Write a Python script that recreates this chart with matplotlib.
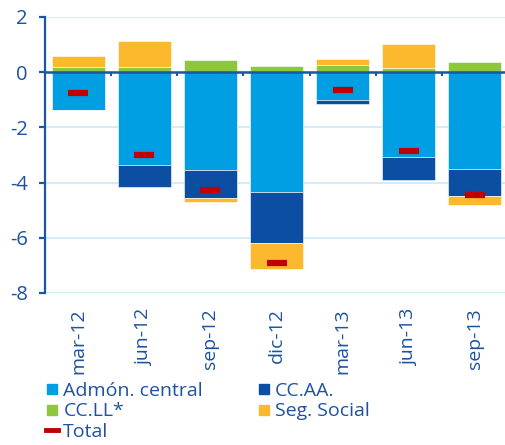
import matplotlib

matplotlib.use("Agg")
import matplotlib.pyplot as plt
import numpy as np
from matplotlib.lines import Line2D

# Data (percentage points)
quarters = ["mar-12", "jun-12", "sep-12", "dic-12", "mar-13", "jun-13", "sep-13"]
admon_central = [-1.36, -3.38, -3.53, -4.34, -1.01, -3.06, -3.52]
cc_aa = [-0.02, -0.77, -1.03, -1.84, -0.13, -0.85, -0.97]
cc_ll = [0.20, 0.20, 0.44, 0.21, 0.25, 0.17, 0.37]
seg_social = [0.39, 0.94, -0.14, -0.96, 0.23, 0.85, -0.34]
total = [-0.75, -2.99, -4.27, -6.93, -0.66, -2.87, -4.44]
y_ticks = [2, 0, -2, -4, -6, -8]

C_CENTRAL = "#009fe3"
C_CCAA = "#0b4ea2"
C_CCLL = "#8dc63f"
C_SS = "#fdb92e"
C_TOTAL = "#c00000"
C_TEXT = "#1c52a0"
C_AXIS = "#1a56a6"
C_GRID = "#cbe9f6"

plt.rcParams["font.family"] = ["Open Sans", "DejaVu Sans"]
plt.rcParams["axes.unicode_minus"] = False

fig = plt.figure(figsize=(5.05, 4.45), dpi=100)
ax = fig.add_axes([45 / 505, 0.3416, 463 / 505, 0.6202])

x = np.arange(len(quarters))
width = 0.8

# stack positives upward and negatives downward
pos_base = np.zeros(len(x))
neg_base = np.zeros(len(x))
for vals, color in [(admon_central, C_CENTRAL), (cc_aa, C_CCAA),
                    (cc_ll, C_CCLL), (seg_social, C_SS)]:
    vals = np.asarray(vals)
    base = np.where(vals >= 0, pos_base, neg_base)
    ax.bar(x, vals, width, bottom=base, color=color, zorder=2,
           edgecolor="white", linewidth=0.4)
    pos_base = pos_base + np.clip(vals, 0, None)
    neg_base = neg_base + np.clip(vals, None, 0)

ax.plot(x, total, linestyle="none", marker="_", markersize=15,
        markeredgewidth=4.5, color=C_TOTAL, zorder=4)

# zero line and small separators below it
ax.axhline(0, color=C_AXIS, linewidth=1.8, zorder=3)
ax.vlines(x[:-1] + 0.5, -0.15, 0, color=C_AXIS, linewidth=1.5, zorder=3)

ax.set_xlim(-0.5, len(x) - 0.5)
ax.set_ylim(-8, 2)
ax.set_yticks(y_ticks)
ax.yaxis.grid(True, color=C_GRID, linewidth=1.2, zorder=0)
ax.set_axisbelow(True)

for side in ("top", "right", "bottom"):
    ax.spines[side].set_visible(False)
ax.spines["left"].set_color(C_AXIS)
ax.spines["left"].set_linewidth(1.6)

ax.tick_params(axis="y", colors=C_AXIS, length=4.5, width=1.6, pad=8,
               labelsize=14.5, labelcolor=C_TEXT)
ax.set_xticks(x)
ax.set_xticklabels(quarters, rotation=90, fontsize=14, color=C_TEXT)
ax.tick_params(axis="x", length=0, pad=11)

handles = [
    Line2D([], [], marker="s", linestyle="none", markersize=7.5,
           color=C_CENTRAL, label="Admón. central"),
    Line2D([], [], marker="s", linestyle="none", markersize=7.5,
           color=C_CCLL, label="CC.LL*"),
    Line2D([], [], color=C_TOTAL, linewidth=3.5, label="Total"),
    Line2D([], [], marker="s", linestyle="none", markersize=7.5,
           color=C_CCAA, label="CC.AA."),
    Line2D([], [], marker="s", linestyle="none", markersize=7.5,
           color=C_SS, label="Seg. Social"),
]
leg = fig.legend(handles=handles, ncol=2, loc="upper left",
                 bbox_to_anchor=(38 / 505, 1 - 374 / 445), frameon=False,
                 fontsize=14, handlelength=0.65, handletextpad=0.25,
                 columnspacing=2.8, labelspacing=0.14, borderaxespad=0)
for t in leg.get_texts():
    t.set_color(C_TEXT)

fig.savefig("out.png", dpi=100)
